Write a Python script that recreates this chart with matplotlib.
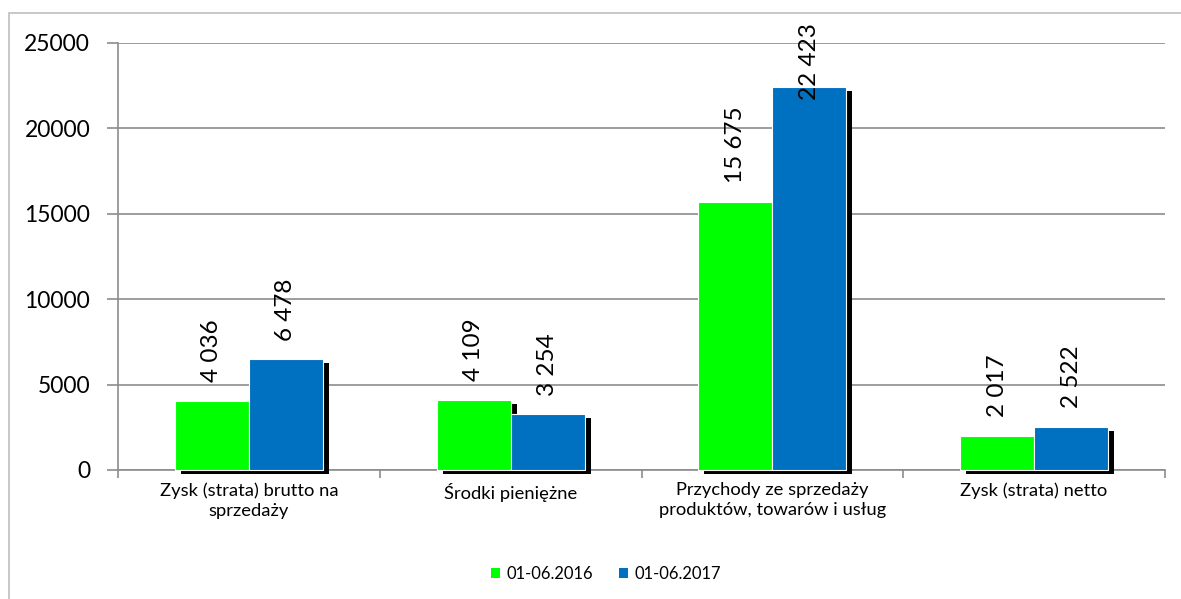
import numpy as np
import matplotlib
matplotlib.use('Agg')
import matplotlib.pyplot as plt
import matplotlib.patheffects as pe
from matplotlib.patches import Rectangle, Patch

plt.rcParams['font.family'] = ['Lato', 'DejaVu Sans']

# dane
kategorie = ['Zysk (strata) brutto na\nsprzedaży', 'Środki pieniężne',
             'Przychody ze sprzedaży\nproduktów, towarów i usług', 'Zysk (strata) netto']
serie = ['01-06.2016', '01-06.2017']
wartosci_2016 = [4036, 4109, 15675, 2017]
wartosci_2017 = [6478, 3254, 22423, 2522]
kolory = ['#00FF00', '#0070C0']

fig = plt.figure(figsize=(11.81, 5.99), dpi=100)
ax = fig.add_axes([118 / 1181, 1 - 470 / 599, (1165 - 118) / 1181, (470 - 43) / 599])

# ramka wykresu
fig.patches.append(Rectangle((9 / 1181, -0.1), 1.2, 1 - 13 / 599 + 0.1, transform=fig.transFigure,
                             fill=False, edgecolor='#bfbfbf', linewidth=1.2))

x = np.arange(len(kategorie))
szer = 0.283
cien = [pe.SimplePatchShadow(offset=(4.3, -2.9), shadow_rgbFace='black', alpha=1.0), pe.Normal()]

for i, (vals, kolor) in enumerate(zip([wartosci_2016, wartosci_2017], kolory)):
    pos = x + (i - 0.5) * szer
    bars = ax.bar(pos, vals, width=szer, color=kolor, edgecolor='white', linewidth=0.8, zorder=3)
    for b in bars:
        b.set_path_effects(cien)
        b.set_clip_on(False)
    for p, v in zip(pos, vals):
        tekst = f'{v:,}'.replace(',', ' ')
        if v + 1100 > 21500:
            ax.text(p, 26170, tekst, rotation=90, ha='center', va='top', fontsize=17.5, zorder=5)
        else:
            ax.text(p, v + 1100, tekst, rotation=90, ha='center', va='bottom', fontsize=17.5, zorder=5)

ax.set_xlim(-0.5, len(kategorie) - 0.5)
ax.set_ylim(0, 25000)
ax.set_yticks(np.arange(0, 25001, 5000))
ax.yaxis.grid(True, color='#8c8c8c', linewidth=1.2, zorder=0)
ax.set_axisbelow(True)

ax.set_xticks(x)
ax.set_xticklabels(kategorie, fontsize=13.2, linespacing=1.3)
ax.set_xticks(np.arange(-0.5, len(kategorie)), minor=True)
ax.tick_params(axis='x', which='major', length=0, pad=9)
ax.tick_params(axis='x', which='minor', length=6, width=1.2, color='#8c8c8c', direction='out')
ax.tick_params(axis='y', length=8, width=1.2, color='#8c8c8c', labelsize=16.5, pad=12)

for s in ['top', 'right']:
    ax.spines[s].set_visible(False)
for s in ['left', 'bottom']:
    ax.spines[s].set_color('#8c8c8c')
    ax.spines[s].set_linewidth(1.2)

uchwyty = [Patch(facecolor=k, edgecolor='none', label=s) for k, s in zip(kolory, serie)]
fig.legend(handles=uchwyty, loc='center', bbox_to_anchor=(606 / 1181, 1 - 574 / 599), ncol=2,
           frameon=False, fontsize=11.9, handlelength=0.55, handleheight=0.55,
           handletextpad=0.35, columnspacing=1.6)

fig.savefig('out.png', dpi=100)
